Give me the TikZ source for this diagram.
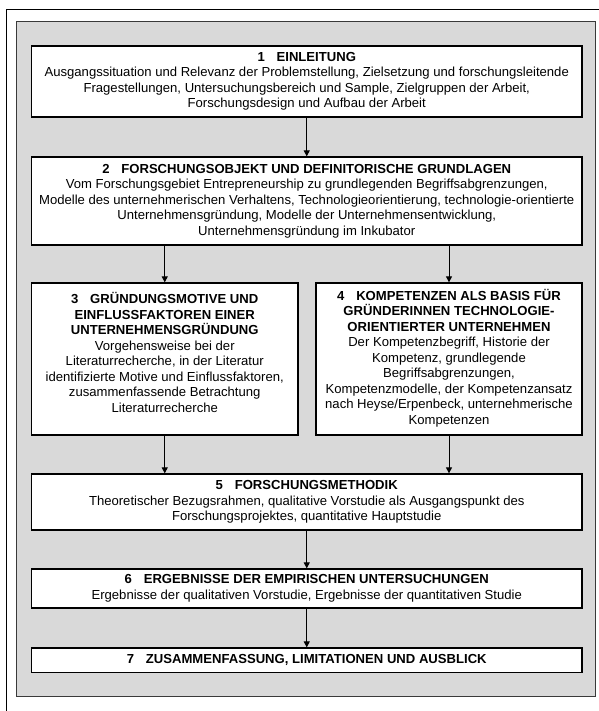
\documentclass[tikz,border=0pt]{standalone}
\usepackage{fontspec}
\setmainfont{Liberation Sans}
\usetikzlibrary{arrows.meta}
\definecolor{panelgray}{HTML}{D9D9D9}
\definecolor{paneledge}{HTML}{3A3A3A}
\tikzset{
  chapterbox/.style={draw=black, line width=1.3pt, fill=white, rectangle, inner sep=0pt},
  chaptertext/.style={align=center, inner sep=0pt, font=\fontsize{13.1}{15.5}\selectfont},
  flow/.style={line width=1pt, -{Triangle[length=6pt,width=6pt]}}
}
\newcommand{\chap}[2]{\textbf{#1\hspace{0.9em}#2}}
\begin{document}
\begin{tikzpicture}[x=1pt,y=-1pt]
\useasboundingbox (0,0) rectangle (598,711);
% outer frame, running off the right and bottom edges
\draw[line width=1pt] (6.5,720) -- (6.5,9.5) -- (610,9.5);
% grey panel
\draw[draw=paneledge, line width=1pt, fill=panelgray] (16.7,22) rectangle (595,696);

% chapter boxes
\node[chapterbox, minimum width=550.5pt, minimum height=71pt]  (b1) at (306.75,81.5) {};
\node[chapterbox, minimum width=550.5pt, minimum height=88pt]  (b2) at (306.75,201) {};
\node[chapterbox, minimum width=266.5pt, minimum height=152pt] (b3) at (164.75,359) {};
\node[chapterbox, minimum width=266pt,   minimum height=152pt] (b4) at (449,359) {};
\node[chapterbox, minimum width=550.5pt, minimum height=56pt]  (b5) at (306.75,502) {};
\node[chapterbox, minimum width=550.5pt, minimum height=39pt]  (b6) at (306.75,588.5) {};
\node[chapterbox, minimum width=550.5pt, minimum height=24.5pt](b7) at (306.75,660.25) {};

% chapter texts
\node[chaptertext] (t1) at (b1.center) {\chap{1}{EINLEITUNG}\\
Ausgangssituation und Relevanz der Problemstellung, Zielsetzung und forschungsleitende\\
Fragestellungen, Untersuchungsbereich und Sample, Zielgruppen der Arbeit,\\
Forschungsdesign und Aufbau der Arbeit};
\node[chaptertext] (t2) at (b2.center) {\chap{2}{FORSCHUNGSOBJEKT UND DEFINITORISCHE GRUNDLAGEN}\\
Vom Forschungsgebiet Entrepreneurship zu grundlegenden Begriffsabgrenzungen,\\
Modelle des unternehmerischen Verhaltens, Technologieorientierung, technologie-orientierte\\
Unternehmensgründung, Modelle der Unternehmensentwicklung,\\
Unternehmensgründung im Inkubator};
\node[chaptertext, anchor=north] (t3) at ([yshift=-10pt]b3.north) {\chap{3}{GRÜNDUNGSMOTIVE UND}\\
\textbf{EINFLUSSFAKTOREN EINER}\\
\textbf{UNTERNEHMENSGRÜNDUNG}\\
Vorgehensweise bei der\\
Literaturrecherche, in der Literatur\\
identifizierte Motive und Einflussfaktoren,\\
zusammenfassende Betrachtung\\
Literaturrecherche};
\node[chaptertext] (t4) at ([yshift=1pt]b4.center) {\chap{4}{KOMPETENZEN ALS BASIS FÜR}\\
\textbf{GRÜNDERINNEN TECHNOLOGIE-}\\
\textbf{ORIENTIERTER UNTERNEHMEN}\\
Der Kompetenzbegriff, Historie der\\
Kompetenz, grundlegende\\
Begriffsabgrenzungen,\\
Kompetenzmodelle, der Kompetenzansatz\\
nach Heyse/Erpenbeck, unternehmerische\\
Kompetenzen};
\node[chaptertext] (t5) at (b5.center) {\chap{5}{FORSCHUNGSMETHODIK}\\
Theoretischer Bezugsrahmen, qualitative Vorstudie als Ausgangspunkt des\\
Forschungsprojektes, quantitative Hauptstudie};
\node[chaptertext] (t6) at (b6.center) {\chap{6}{ERGEBNISSE DER EMPIRISCHEN UNTERSUCHUNGEN}\\
Ergebnisse der qualitativen Vorstudie, Ergebnisse der quantitativen Studie};
\node[chaptertext] (t7) at (b7.center) {\chap{7}{ZUSAMMENFASSUNG, LIMITATIONEN UND AUSBLICK}};

% connectors
\draw[flow] (b1.south) -- (b2.north);
\draw[flow] (b2.south -| b3.north) -- (b3.north);
\draw[flow] (b2.south -| b4.north) -- (b4.north);
\draw[flow] (b3.south) -- (b3.south |- b5.north);
\draw[flow] (b4.south) -- (b4.south |- b5.north);
\draw[flow] (b5.south) -- (b6.north);
\draw[flow] (b6.south) -- (b7.north);
\end{tikzpicture}
\end{document}
